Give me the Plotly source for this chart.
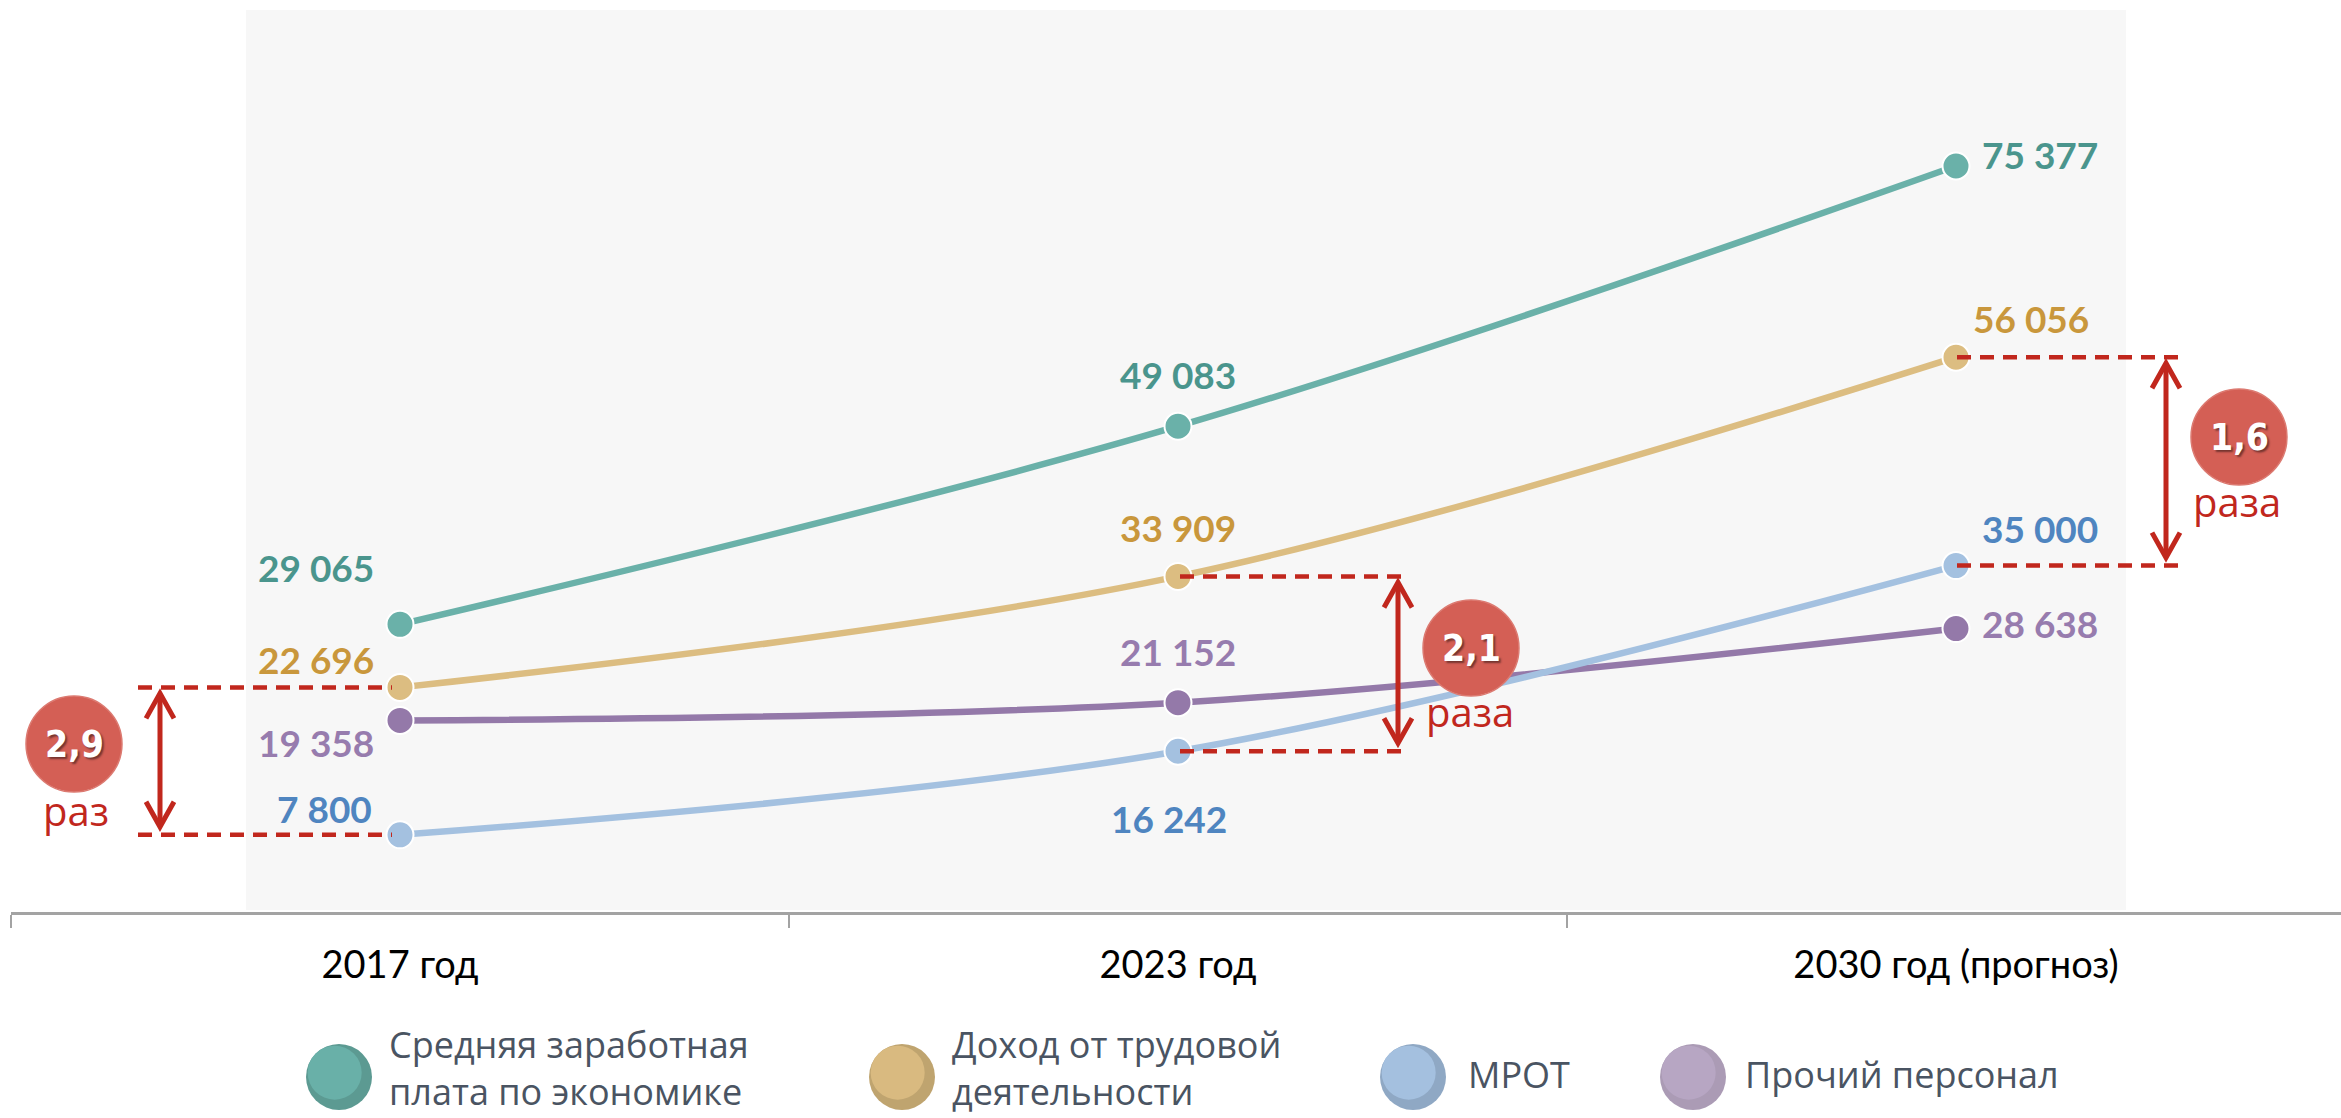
import plotly.graph_objects as go

# ---------------- data ----------------
categories = ["2017 год", "2023 год", "2030 год (прогноз)"]
series_names = ["Средняя заработная<br>плата по экономике", "Доход от трудовой<br>деятельности",
                "МРОТ", "Прочий персонал"]
avg_wage = [29065, 49083, 75377]
labor_income = [22696, 33909, 56056]
mrot = [7800, 16242, 35000]
other_staff = [19358, 21152, 28638]

# ---------------- geometry helpers ----------------
W, H = 2341, 1118
L, T = 11, 10
AX_Y = 912            # pixel of the x axis line
PW = W - L
PH = AX_Y - T
CAT_W = 778
YMAX = 91140
XMAX = -0.5 + PW / CAT_W

def fx(X):            # pixel x -> paper
    return (X - L) / PW

def fy(Y):            # pixel y -> paper
    return (AX_Y - Y) / PH

def vpx(v):           # value -> pixel y
    return AX_Y - v / YMAX * PH

def fmt(v):
    return f"{v:,}".replace(",", " ")

RED = "#c1271d"
CIRC = "#d45f55"

styles = {
    "avg":   dict(line="#6ab1a9", label="#4a958d", leg_l="#69b0a8", leg_d="#5c9a92"),
    "lab":   dict(line="#dcbd81", label="#c9973c", leg_l="#d9ba80", leg_d="#bfa46f"),
    "mrot":  dict(line="#a4c1e0", label="#4f85c0", leg_l="#a4c0df", leg_d="#8fa8c4"),
    "other": dict(line="#9479a9", label="#977cae", leg_l="#b7a6c3", leg_d="#ab9bb5"),
}
order = [("avg", avg_wage), ("lab", labor_income), ("other", other_staff), ("mrot", mrot)]

fig = go.Figure()
for key, vals in order:
    s = styles[key]
    fig.add_trace(go.Scatter(
        x=categories, y=vals, mode="lines+markers",
        line=dict(color=s["line"], width=6.5, shape="spline", smoothing=1.0),
        marker=dict(size=27, color=s["line"], line=dict(color="white", width=2)),
        showlegend=False, hoverinfo="skip"))

shapes = []
annotations = []

# gray panel
shapes.append(dict(type="rect", xref="paper", yref="paper", layer="below",
                   x0=fx(246), x1=fx(2126), y0=fy(910), y1=fy(T),
                   fillcolor="#f7f7f7", line=dict(width=0)))

# data labels (offsets in pixels, per point)
label_pos = {
    "avg":   [("right", -24, 57), ("center", 0, 52), ("left", 24, 12)],
    "lab":   [("right", -24, 28), ("center", 0, 49), ("left", 15, 39)],
    "mrot":  [("right", -26, 26), ("center", -9, -67), ("left", 24, 37)],
    "other": [("right", -24, -22), ("center", 0, 51), ("left", 24, 5)],
}
for key, vals in order:
    for i, v in enumerate(vals):
        xa, dx, dy = label_pos[key][i]
        annotations.append(dict(
            x=categories[i], y=v, xref="x", yref="y", text=fmt(v), showarrow=False,
            xanchor=xa, yanchor="middle", xshift=dx, yshift=dy,
            font=dict(family="Lato", size=37, color=styles[key]["label"], weight="bold")))

# ratio brackets
pairs = [
    (labor_income[0], mrot[0], 138, 392, 160, (74, 744), (76, 810), "раз"),
    (labor_income[1], mrot[1], 1180, 1408, 1398, (1471, 648), (1470, 711), "раза"),
    (labor_income[2], mrot[2], 1957, 2187, 2166, (2239, 437), (2237, 501), "раза"),
]
R = 48
for top, bot, x0, x1, ax, (ccx, ccy), (tx, ty), word in pairs:
    for v in (top, bot):
        shapes.append(dict(type="line", xref="paper", yref="y", layer="above",
                           x0=fx(x0), x1=fx(x1), y0=v, y1=v,
                           line=dict(color=RED, width=4.5, dash="14px,9px")))
    ytop = vpx(top) + 6
    ybot = vpx(bot) - 8
    shapes.append(dict(type="line", xref="paper", yref="paper", layer="above",
                       x0=fx(ax), x1=fx(ax), y0=fy(ytop + 2), y1=fy(ybot - 2),
                       line=dict(color=RED, width=5)))
    for tip, sgn in ((ytop, 1), (ybot, -1)):
        path = (f"M {fx(ax - 14)},{fy(tip + sgn * 25)} L {fx(ax)},{fy(tip)} "
                f"L {fx(ax + 14)},{fy(tip + sgn * 25)}")
        shapes.append(dict(type="path", xref="paper", yref="paper", layer="above",
                           path=path, line=dict(color=RED, width=5)))
    shapes.append(dict(type="circle", xref="paper", yref="paper", layer="above",
                       x0=fx(ccx - R), x1=fx(ccx + R), y0=fy(ccy + R), y1=fy(ccy - R),
                       fillcolor=CIRC, line=dict(color="#dc7a71", width=1.5)))
    ratio = f"{top / bot:.1f}".replace(".", ",")
    annotations.append(dict(
        x=fx(ccx), y=fy(ccy), xref="paper", yref="paper", text=ratio, showarrow=False,
        xanchor="center", yanchor="middle",
        font=dict(family="DejaVu Sans Condensed, Liberation Sans Narrow, Roboto Condensed, DejaVu Sans",
                  size=37, color="white", weight="bold",
                  shadow="2px 2px 2px rgba(0,0,0,0.45)")))
    annotations.append(dict(
        x=fx(tx), y=fy(ty), xref="paper", yref="paper", text=word, showarrow=False,
        xanchor="center", yanchor="middle",
        font=dict(family="Open Sans", size=40, color=RED)))

# custom legend
legend_items = [("avg", 339, 388), ("lab", 902, 951), ("mrot", 1413, 1467), ("other", 1693, 1744)]
LR = 33
for (key, cx, tx), name in zip(legend_items, series_names):
    s = styles[key]
    cy = 1077
    shapes.append(dict(type="circle", xref="paper", yref="paper", layer="above",
                       x0=fx(cx - LR), x1=fx(cx + LR), y0=fy(cy + LR), y1=fy(cy - LR),
                       fillcolor=s["leg_d"], line=dict(width=0)))
    lr = 27
    ox, oy = cx - (LR - lr) * 0.72, cy - (LR - lr) * 0.72
    shapes.append(dict(type="circle", xref="paper", yref="paper", layer="above",
                       x0=fx(ox - lr), x1=fx(ox + lr), y0=fy(oy + lr), y1=fy(oy - lr),
                       fillcolor=s["leg_l"], line=dict(width=0)))
    yy = 1074 if "<br>" not in name else 1068
    annotations.append(dict(
        x=fx(tx), y=fy(yy), xref="paper", yref="paper", text=name, showarrow=False,
        xanchor="left", yanchor="middle", align="left", borderpad=0,
        font=dict(family="Open Sans", size=36, color="#4a5462")))

fig.update_layout(
    width=W, height=H,
    margin=dict(l=L, r=0, t=T, b=H - AX_Y),
    paper_bgcolor="white", plot_bgcolor="rgba(0,0,0,0)",
    showlegend=False,
    shapes=shapes, annotations=annotations,
    xaxis=dict(type="category", range=[-0.5, XMAX], showgrid=False, zeroline=False,
               showline=True, linecolor="#a3a3a3", linewidth=2.5,
               ticks="outside", tickson="boundaries", ticklen=13, tickwidth=1.5,
               tickcolor="#a3a3a3", ticklabelstandoff=18,
               tickfont=dict(family="Lato", size=38, color="black")),
    yaxis=dict(range=[0, YMAX], visible=False, showgrid=False, zeroline=False),
)

fig.write_html("out.html", config={"displayModeBar": False},
               post_script="document.body.style.margin='0';document.body.style.overflow='hidden';")
